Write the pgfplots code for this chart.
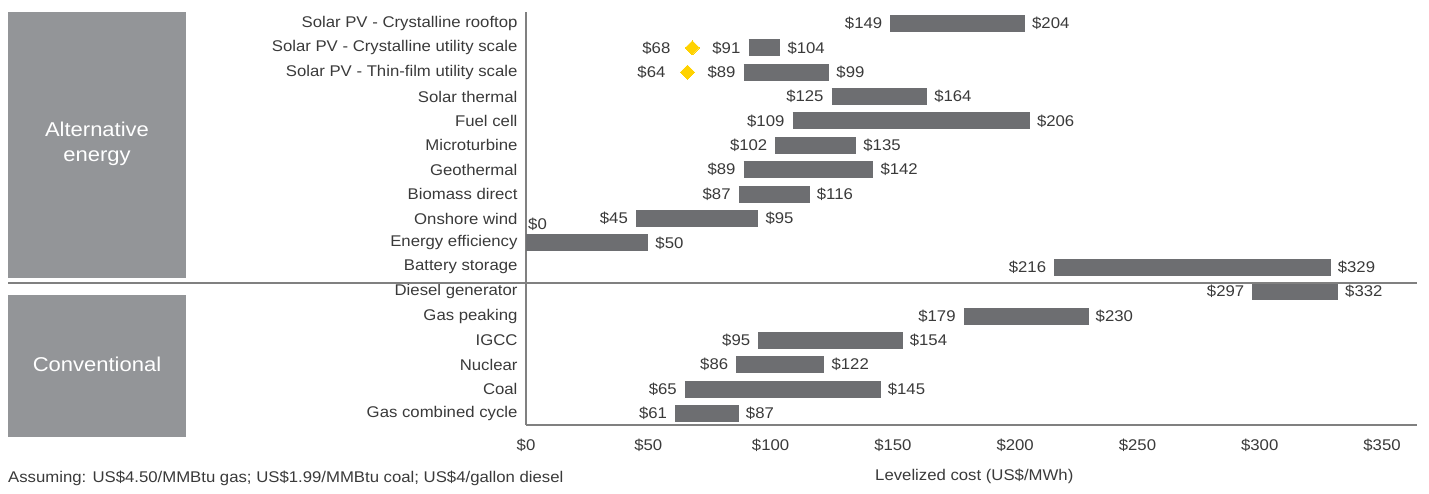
\documentclass[border=0pt]{standalone}
\usepackage{fontspec}
\setmainfont{Liberation Sans}[FakeStretch=1.08]
\newfontfamily\boxfont{Liberation Sans}[FakeStretch=1.1]
\usepackage{pgfplots}
\pgfplotsset{compat=1.18}
\usepackage{pgfplotstable}

\definecolor{barcol}{HTML}{6D6E71}
\definecolor{boxcol}{HTML}{939598}
\definecolor{linecol}{HTML}{808080}
\definecolor{txtcol}{HTML}{3A3A3A}
\definecolor{gold}{HTML}{FFD200}
\newcommand\bodyfont{\fontsize{15.5}{18.5}\selectfont}

\pgfplotstableread{
y low high lowlab highlab
16 149 204 149 204
15 91 104 91 104
14 89 124 89 99
13 125 164 125 164
12 109 206 109 206
11 102 135 102 135
10 89 142 89 142
9 87 116 87 116
8 45 95 45 95
7 0 50 0 50
6 216 329 216 329
5 297 332 297 332
4 179 230 179 230
3 95 154 95 154
2 86 122 86 122
1 65 145 65 145
0 61 87 61 87
}\bars

\pgfplotstableread{
x y lab
68 15 68
66 14 64
}\dia

\begin{document}
\begin{tikzpicture}
\useasboundingbox (0,0) rectangle (1429pt,494pt);
% category boxes
\fill[boxcol] (8pt,216pt) rectangle (186pt,482pt);
\node[text=white, align=center, font=\boxfont\fontsize{20}{25}\selectfont] at (97pt,350.5pt) {Alternative\\energy};
\fill[boxcol] (8pt,57pt) rectangle (186pt,199pt);
\node[text=white, align=center, font=\boxfont\fontsize{20}{25}\selectfont] at (97pt,130pt) {Conventional};

\begin{axis}[
  at={(526pt,69pt)}, anchor=south west,
  scale only axis, width=891pt, height=413pt,
  xmin=0, xmax=364.3, ymin=-0.47, ymax=16.47,
  axis lines*=left,
  axis line style={draw=linecol, line width=1.6pt},
  /pgf/number format/assume math mode=true,
  xtick={0,50,...,350},
  xticklabel={\$\pgfmathprintnumber{\tick}},
  ytick={0,...,16},
  yticklabels={Gas combined cycle, Coal, Nuclear, IGCC, Gas peaking, Diesel generator, Battery storage, Energy efficiency, Onshore wind, Biomass direct, Geothermal, Microturbine, Fuel cell, Solar thermal, Solar PV - Thin-film utility scale, Solar PV - Crystalline utility scale, Solar PV - Crystalline rooftop},
  major tick length=0pt,
  tick style={draw=none},
  tick label style={font=\bodyfont, text=txtcol},
  xticklabel style={anchor=center, yshift=-20pt},
  yticklabel style={xshift=-5pt},
  clip=false,
]
% bars
\addplot[draw=none, mark=none, forget plot,
  error bars/.cd, x dir=plus, x explicit, error mark=none,
  error bar style={draw=barcol, line width=17pt}]
  table[x=low, y=y, x error expr=\thisrow{high}-\thisrow{low}] {\bars};
% left labels
\addplot[draw=none, mark=none, point meta=explicit symbolic,
  nodes near coords={\$\pgfplotspointmeta},
  every node near coord/.append style={anchor=east, xshift=-8pt, inner sep=0pt, font=\bodyfont, text=txtcol},
  skip coords between index={9}{10}]
  table[x=low, y=y, meta=lowlab] {\bars};
% right labels
\addplot[draw=none, mark=none, point meta=explicit symbolic,
  nodes near coords={\$\pgfplotspointmeta},
  every node near coord/.append style={anchor=west, xshift=7pt, inner sep=0pt, font=\bodyfont, text=txtcol}]
  table[x=high, y=y, meta=highlab] {\bars};
% $0 label of energy efficiency
\addplot[draw=none, mark=none,
  nodes near coords={\$0},
  every node near coord/.append style={anchor=west, xshift=2pt, inner sep=0pt, font=\bodyfont, text=txtcol}]
  coordinates {(0,7.76)};
% diamonds
\addplot[only marks, color=gold, mark=square*, mark size=5pt,
  mark options={rotate=45, fill=gold, draw=gold, line width=0pt},
  point meta=explicit symbolic,
  nodes near coords={\$\pgfplotspointmeta},
  every node near coord/.append style={anchor=east, xshift=-22pt, inner sep=0pt, font=\bodyfont, text=txtcol}]
  table[x=x, y=y, meta=lab] {\dia};
\end{axis}

% separator
\draw[linecol, line width=1.6pt] (8pt,211pt) -- (1417pt,211pt);

% footnotes
\node[anchor=west, inner sep=0pt, font=\bodyfont, text=txtcol] at (8pt,16pt) {Assuming: US\$4.50/MMBtu gas; US\$1.99/MMBtu coal; US\$4/gallon diesel};
\node[anchor=west, inner sep=0pt, font=\bodyfont, text=txtcol] at (875pt,18pt) {Levelized cost (US\$/MWh)};
\end{tikzpicture}
\end{document}
